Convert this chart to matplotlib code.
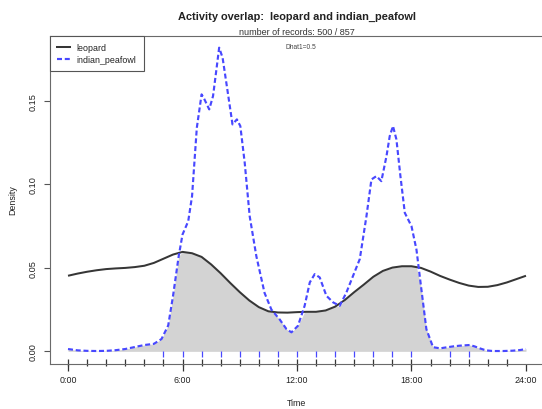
import numpy as np
import matplotlib
matplotlib.use("Agg")
import matplotlib.pyplot as plt
from matplotlib.lines import Line2D

plt.rcParams['font.family'] = ['Liberation Sans', 'DejaVu Sans']
plt.rcParams['lines.scale_dashes'] = False

# ---- data -------------------------------------------------------------
species = ["leopard", "indian_peafowl"]
n_records = [500, 857]
dhat1 = 0.5

time_ticks = [0, 6, 12, 18, 24]
time_labels = ["0:00", "6:00", "12:00", "18:00", "24:00"]
density_ticks = [0.00, 0.05, 0.10, 0.15]
density_labels = ["0.00", "0.05", "0.10", "0.15"]

# kernel density of leopard activity (hour of day, density)
leopard_hours = [0, 0.5, 1, 1.5, 2, 2.5, 3, 3.5, 4, 4.5, 5, 5.5, 6, 6.5, 7, 7.5,
                 8, 8.5, 9, 9.5, 10, 10.5, 11, 11.5, 12, 12.5, 13, 13.5, 14,
                 14.5, 15, 15.5, 16, 16.5, 17, 17.5, 18, 18.5, 19, 19.5, 20,
                 20.5, 21, 21.5, 22, 22.5, 23, 23.5, 24]
leopard_density = [0.0453, 0.0466, 0.0477, 0.0486, 0.0493, 0.0497, 0.0500,
                   0.0505, 0.0513, 0.0530, 0.0555, 0.0580, 0.0596, 0.0588,
                   0.0566, 0.0521, 0.0468, 0.0410, 0.0355, 0.0305, 0.0265,
                   0.0240, 0.0233, 0.0232, 0.0235, 0.0237, 0.0237, 0.0245,
                   0.0268, 0.0307, 0.0355, 0.0400, 0.0447, 0.0482, 0.0502,
                   0.0510, 0.0510, 0.0500, 0.0478, 0.0452, 0.0430, 0.0410,
                   0.0394, 0.0386, 0.0387, 0.0397, 0.0413, 0.0433, 0.0453]

# kernel density of indian_peafowl activity
peafowl_hours = [0, 0.5, 1, 1.5, 2, 2.5, 3, 3.5, 4, 4.5, 4.9, 5.25, 5.5, 5.8,
                 6.0, 6.3, 6.5, 6.75, 7.0, 7.15, 7.4, 7.6, 7.8, 7.92, 8.1,
                 8.4, 8.62, 8.85, 9.03, 9.26, 9.52, 9.87, 10.3, 10.66, 11.1,
                 11.45, 11.71, 12.05, 12.4, 12.67, 12.93, 13.19, 13.54, 13.9,
                 14.24, 14.59, 14.94, 15.29, 15.64, 15.9, 16.16, 16.42, 16.69,
                 16.86, 17.03, 17.21, 17.42, 17.65, 18.0, 18.26, 18.52, 18.78,
                 19.13, 19.5, 19.83, 20.2, 20.53, 21.05, 21.3, 21.58, 21.9,
                 22.27, 22.8, 23.3, 23.7, 24]
peafowl_density = [0.0014, 0.0006, 0.0003, 0.0002, 0.0003, 0.0007, 0.0014,
                   0.0026, 0.0038, 0.0045, 0.0074, 0.0155, 0.0330, 0.0570,
                   0.0700, 0.0780, 0.0930, 0.1340, 0.1540, 0.1510, 0.1450,
                   0.1530, 0.1710, 0.1820, 0.1760, 0.1530, 0.1360, 0.1390,
                   0.1350, 0.1130, 0.0810, 0.0570, 0.0350, 0.0250, 0.0190,
                   0.0133, 0.0114, 0.0153, 0.0273, 0.0413, 0.0463, 0.0443,
                   0.0333, 0.0293, 0.0273, 0.0353, 0.0453, 0.0553, 0.0810,
                   0.1030, 0.1050, 0.1020, 0.1170, 0.1290, 0.1350, 0.1270,
                   0.1050, 0.0830, 0.0750, 0.0610, 0.0370, 0.0133, 0.0025,
                   0.0018, 0.0024, 0.0030, 0.0034, 0.0038, 0.0030, 0.0018,
                   0.0006, 0.0002, 0.0002, 0.0004, 0.0008, 0.0014]

# hours with recorded detections (rug)
leopard_rug = list(range(0, 24))
peafowl_rug = [5, 6, 7, 8, 9, 10, 11, 12, 13, 14, 15, 16, 17, 18, 20, 21]

# ---- figure -----------------------------------------------------------
W, H = 542, 410
fig = plt.figure(figsize=(W / 100, H / 100), dpi=100)
ax_l, ax_r, ax_t, ax_b = 49.7, 544.3, 36.5, 364.5
ax = fig.add_axes([ax_l / W, 1 - ax_b / H, (ax_r - ax_l) / W, (ax_b - ax_t) / H])

dmax = max(max(leopard_density), max(peafowl_density))
ax.set_xlim(-0.04 * 24, 24 + 0.04 * 24)
ax.set_ylim(-0.04 * dmax, dmax * 1.04)

# overlap region: area under the lower of the two curves
grid = np.union1d(leopard_hours, peafowl_hours)
lower = np.minimum(np.interp(grid, leopard_hours, leopard_density),
                   np.interp(grid, peafowl_hours, peafowl_density))
ax.fill_between(grid, 0, lower, color='#D3D3D3', lw=0, zorder=1)

blue = '#4848FF'
dark = '#363636'
ax.plot(leopard_hours, leopard_density, color=dark, lw=1.45, zorder=3,
        solid_capstyle='butt')
ax.plot(peafowl_hours, peafowl_density, color=blue, lw=1.55, zorder=3,
        linestyle=(0, (3.6, 2.0)), dash_capstyle='butt')

# rugs of detection times
px = (dmax * 1.08) / (ax_b - ax_t)  # data units per pixel
ax.vlines(peafowl_rug, -6 * px, 0, color=blue, lw=0.9, clip_on=False, zorder=2)
ax.vlines(leopard_rug, -(364.5 - 360 + 12.2) * px * 0 - 7.7 * px,
          -14.7 * px, color=dark, lw=0.9, clip_on=False, zorder=2)

# axes frame (right side runs past the figure edge)
for side in ('left', 'bottom', 'top'):
    ax.spines[side].set_color('#6a6a6a')
    ax.spines[side].set_linewidth(0.8)
ax.spines['right'].set_visible(False)

ax.set_xticks(time_ticks)
ax.set_xticklabels(time_labels)
ax.set_yticks(density_ticks)
ax.set_yticklabels(density_labels, rotation=90, va='center')
ax.tick_params(axis='x', direction='out', length=5.2, width=0.9,
               color='#333333', pad=3, labelsize=6.4, labelcolor='#222222')
ax.tick_params(axis='y', direction='out', length=4.0, width=0.8,
               color='#555555', pad=4.5, labelsize=6.6, labelcolor='#222222')

ax.set_xlabel("Time", fontsize=6.4, color='#222222', va='center')
ax.xaxis.set_label_coords(0.5, (ax_b - 404) / (ax_b - ax_t))
ax.set_ylabel("Density", fontsize=6.4, color='#222222', va='center')
ax.yaxis.set_label_coords((12.3 - ax_l) / (ax_r - ax_l), 0.5)

ax.text(0.5, (ax_b - 16.6) / (ax_b - ax_t),
        f"Activity overlap:  {species[0]} and {species[1]}",
        transform=ax.transAxes, ha='center', va='center', fontsize=7.9,
        fontweight='bold', color='#222222')
ax.text(0.5, (ax_b - 32.8) / (ax_b - ax_t),
        f"number of records: {n_records[0]} / {n_records[1]}",
        transform=ax.transAxes, ha='center', va='center', fontsize=6.5,
        color='#333333')
ax.text(0.507, (ax_b - 47.3) / (ax_b - ax_t), f"Dhat1={dhat1}",
        transform=ax.transAxes, ha='center', va='center', fontsize=4.8,
        color='#444444')

handles = [Line2D([], [], color=dark, lw=1.45),
           Line2D([], [], color=blue, lw=1.55, linestyle=(0, (3.6, 2.0)))]
leg = ax.legend(handles, species, loc='upper left', bbox_to_anchor=(0, 1),
                borderaxespad=0, frameon=True, fancybox=False,
                edgecolor='#555555', framealpha=1, fontsize=6.4,
                handlelength=1.5, handletextpad=0.75, borderpad=0.8,
                labelspacing=0.35)
leg.get_frame().set_linewidth(0.8)
for t in leg.get_texts():
    t.set_color('#222222')

fig.savefig("out.png", dpi=100)
